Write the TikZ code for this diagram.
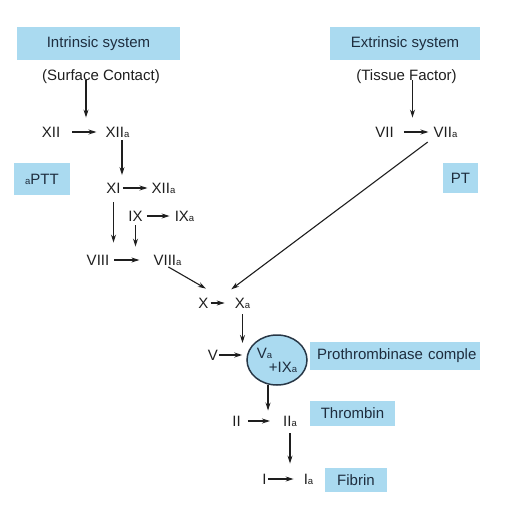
\documentclass[tikz,border=0pt]{standalone}
\usepackage{fontspec}
\setmainfont{Liberation Sans}
\usepackage{xcolor}
\usepackage{tikz}
\usetikzlibrary{calc, arrows.meta, positioning, shapes}

\definecolor{boxblue}{RGB}{170,218,240}
\definecolor{boxtext}{RGB}{30,45,62}
\definecolor{rimblue}{RGB}{40,55,70}
\definecolor{inkgray}{RGB}{30,30,30}
\newcommand{\act}{{\fontsize{9.5}{10}\selectfont a}}

\begin{document}
\begin{tikzpicture}[x=1pt, y=-1pt, >={Stealth[length=8pt, width=5pt]}, font=\fontsize{15}{17}\selectfont]
		\tikzstyle{bluebox} = [fill=boxblue, text=boxtext, inner sep=0pt]
		\tikzstyle{factor} = [text=inkgray, inner sep=1pt, text height=10.5pt, text depth=0pt]
		\tikzstyle{arrow} = [draw=inkgray, line width=1.1pt, ->]

		\useasboundingbox (0,0) rectangle (506,528);

		\node[bluebox, minimum width=163pt, minimum height=33pt] at (98.5, 43.5) 	(intr) 	{Intrinsic system};
		\node[bluebox, minimum width=150pt, minimum height=33pt] at (405, 43.5) 	(extr) 	{Extrinsic system};
		\node[factor] at (101, 75) 		(surf) 	{(Surface Contact)};
		\node[factor] at (406.5, 75) 	(tiss) 	{(Tissue Factor)};

		\node[bluebox, minimum width=56pt, minimum height=32pt] at (42, 179) 	(aptt) 	{\act PTT};
		\node[bluebox, minimum width=35pt, minimum height=30pt] at (460.5, 178) 	(pt) 	{PT};

		\node[factor] at (51, 132) 		(f12) 	{XII};
		\node[factor] at (117.5, 132) 	(f12a) 	{XII\act};
		\node[factor] at (113.5, 188) 	(f11) 	{XI};
		\node[factor] at (163.5, 188) 	(f12b) 	{XII\act};
		\node[factor] at (135.5, 216) 	(f9) 	{IX};
		\node[factor] at (184.5, 216) 	(f9a) 	{IX\act};
		\node[factor] at (98, 260) 		(f8) 	{VIII};
		\node[factor] at (167.5, 260) 	(f8a) 	{VIII\act};
		\node[factor] at (203.5, 303) 	(f10) 	{X};
		\node[factor] at (242.5, 303) 	(f10a) 	{X\act};
		\node[factor] at (384.5, 132) 	(f7) 	{VII};
		\node[factor] at (445.5, 132) 	(f7a) 	{VII\act};
		\node[factor] at (213, 355) 	(f5) 	{V};
		\node[factor] at (236.5, 421) 	(f2) 	{II};
		\node[factor] at (290, 421) 	(f2a) 	{II\act};
		\node[factor] at (264.5, 479) 	(f1) 	{I};
		\node[factor] at (308.5, 479) 	(f1a) 	{I\act};

		\node[ellipse, draw=rimblue, line width=1.5pt, fill=boxblue, text=boxtext, minimum width=60pt, minimum height=50pt, inner sep=0pt, align=left]
			at (277, 360) (cplx) {V\act\\[-3pt]\hspace*{0.8em}+IX\act};

		\node[bluebox, anchor=west, inner xsep=3.5pt, text width=163pt, align=left, minimum height=28pt] at (310, 356) 	(prot) 	{\hspace*{3.5pt}Prothrombinase comple};
		\node[bluebox, minimum width=85pt, minimum height=25pt] at (352.5, 413.5) 	(thr) 	{Thrombin};
		\node[bluebox, minimum width=62pt, minimum height=24pt] at (356, 480) 	(fib) 	{Fibrin};

		\draw[arrow, shorten >=8pt] ([xshift=-15pt]surf.base) -- ([xshift=-15pt]surf.base |- f12.north);
		\draw[arrow, shorten >=8pt] ([xshift=6pt]tiss.base) -- ([xshift=6pt]tiss.base |- f7.north);

		\draw[arrow, shorten <=11pt, shorten >=8pt] (f12) -- (f12a);
		\draw[arrow, shorten <=2pt, shorten >=6.5pt] ([xshift=4.5pt]f12a.south) -- ([xshift=8.5pt]f11.north);
		\draw[arrow, shorten <=1pt, shorten >=3pt] (f11) -- (f12b);
		\draw[arrow, shorten <=3pt, shorten >=4pt] (f9) -- (f9a);
		\draw[arrow, shorten <=8pt, shorten >=11pt] (f11.south) -- (f11.south |- f8.north);
		\draw[arrow, shorten <=3pt, shorten >=7pt] (f9.south) -- (f9.south |- f8.north);
		\draw[arrow, shorten <=4pt, shorten >=13pt] (f8) -- (f8a);
		\draw[arrow, shorten <=1pt, shorten >=16pt] (f8a.south) -- ([xshift=10pt]f10.north east);

		\draw[arrow, shorten <=9pt, shorten >=4pt] (f7) -- (f7a);
		\draw[arrow, shorten <=6pt, shorten >=12pt] (f7a.south west) -- ([xshift=-12pt]f10a.north west);

		\draw[arrow, shorten <=1pt, shorten >=9pt] (f10) -- (f10a);
		\draw[arrow, shorten <=5pt, shorten >=17pt] (f10a.south) -- (f10a.south |- cplx.west);
		\draw[arrow, shorten >=4pt] (f5.east) -- (f5.east -| cplx.west);
		\draw[arrow, shorten >=4pt] (cplx.-110) -- (cplx.-110 |- f2a.north);

		\draw[arrow, shorten <=6pt, shorten >=12pt] (f2) -- (f2a);
		\draw[arrow, shorten <=6pt, shorten >=9pt] (f2a.south) -- (f2a.south |- f1a.north);
		\draw[arrow, shorten >=9pt] (f1) -- (f1a);
	\end{tikzpicture}
\end{document}
